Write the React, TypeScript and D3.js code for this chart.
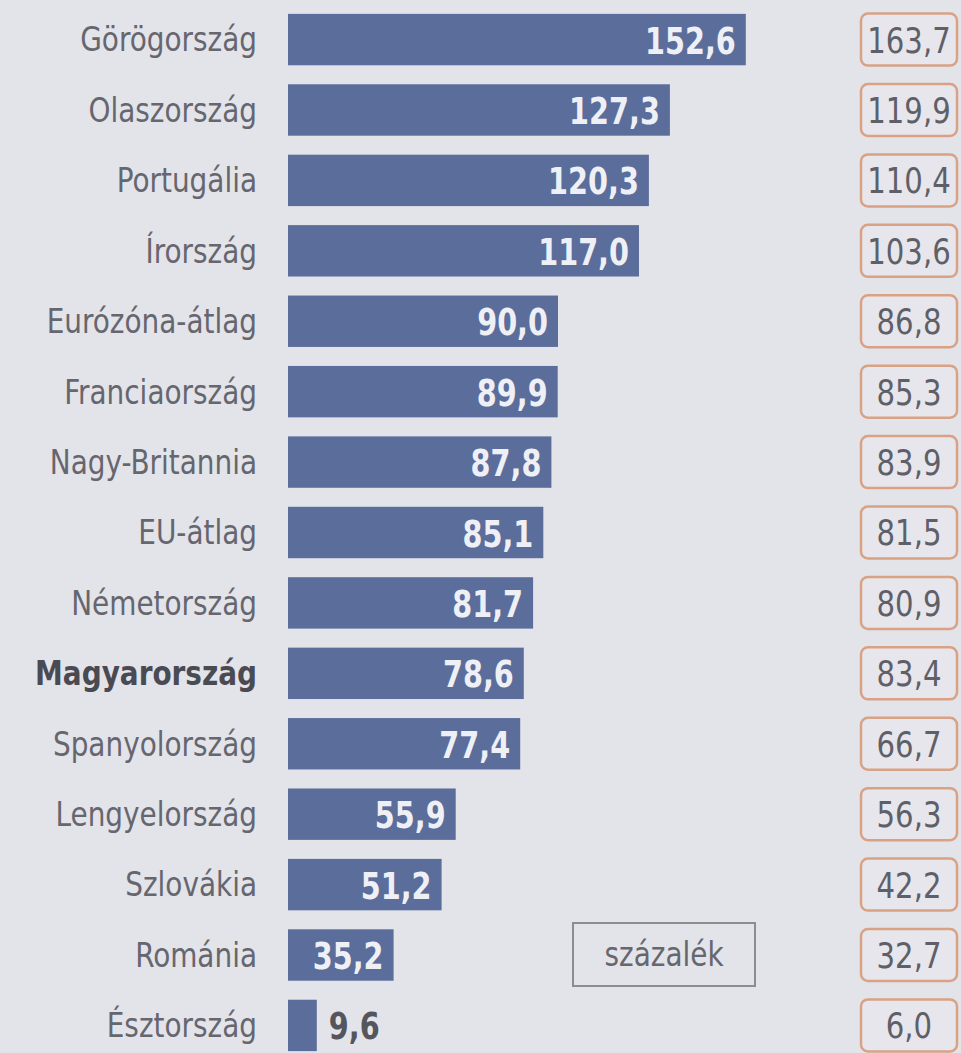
import React, { useEffect, useRef } from 'react';
import * as d3 from 'd3';

const countries = [
  'Görögország', 'Olaszország', 'Portugália', 'Írország', 'Eurózóna-átlag',
  'Franciaország', 'Nagy-Britannia', 'EU-átlag', 'Németország', 'Magyarország',
  'Spanyolország', 'Lengyelország', 'Szlovákia', 'Románia', 'Észtország'
];
const values2013 = [152.6, 127.3, 120.3, 117.0, 90.0, 89.9, 87.8, 85.1, 81.7, 78.6, 77.4, 55.9, 51.2, 35.2, 9.6];
const values2012 = [163.7, 119.9, 110.4, 103.6, 86.8, 85.3, 83.9, 81.5, 80.9, 83.4, 66.7, 56.3, 42.2, 32.7, 6.0];
const highlight = 'Magyarország';
const unitLabel = 'százalék';

const W = 961;
const H = 1053;
const FONT = '"DejaVu Sans Condensed", "Liberation Sans Narrow", "DejaVu Sans", sans-serif';
const fmt = (v: number) => v.toFixed(1).replace('.', ',');

const App: React.FC = () => {
  const svgRef = useRef<SVGSVGElement>(null);

  useEffect(() => {
    if (!svgRef.current) return;
    const svg = d3.select(svgRef.current);
    svg.selectAll('*').remove();

    svg.append('rect').attr('width', W).attr('height', H).attr('fill', '#e3e3ea');

    const x = d3.scaleLinear().domain([0, 160]).range([288, 768]);
    const y = d3.scaleBand<string>()
      .domain(countries)
      .range([4, 1061])
      .paddingInner(0.27)
      .paddingOuter(0.14);
    const mid = (d: string) => y(d)! + y.bandwidth() / 2;
    const inside = (i: number) => x(values2013[i]) - x(0) > 60;

    const rows = svg.selectAll('g.row')
      .data(countries)
      .enter()
      .append('g')
      .attr('class', 'row');

    // bars
    rows.append('rect')
      .attr('x', x(0))
      .attr('y', d => y(d)!)
      .attr('width', (d, i) => x(values2013[i]) - x(0))
      .attr('height', y.bandwidth())
      .attr('fill', '#5b6d9b');

    // country labels (slightly narrowed)
    rows.append('text')
      .attr('transform', d => `translate(257, ${mid(d)}) scale(0.94, 1)`)
      .attr('dy', '0.36em')
      .attr('text-anchor', 'end')
      .attr('font-family', FONT)
      .attr('font-size', 33)
      .attr('font-weight', d => (d === highlight ? 'bold' : 'normal'))
      .attr('fill', d => (d === highlight ? '#4a4a52' : '#66666e'))
      .text(d => d);

    // values in / next to bars
    rows.append('text')
      .attr('transform', (d, i) => {
        const tx = inside(i) ? x(values2013[i]) - 10 : x(values2013[i]) + 12;
        return `translate(${tx}, ${mid(d)}) scale(0.84, 1)`;
      })
      .attr('dy', '0.37em')
      .attr('text-anchor', (d, i) => (inside(i) ? 'end' : 'start'))
      .attr('font-family', FONT)
      .attr('font-size', 38)
      .attr('font-weight', 'bold')
      .attr('fill', (d, i) => (inside(i) ? '#eef0f6' : '#55555d'))
      .text((d, i) => fmt(values2013[i]));

    // right-side boxes
    const boxX = 861;
    const boxW = 96;
    rows.append('rect')
      .attr('x', boxX)
      .attr('y', d => mid(d) - 26)
      .attr('width', boxW)
      .attr('height', 52)
      .attr('rx', 7)
      .attr('fill', '#e6e6ec')
      .attr('stroke', '#d9a285')
      .attr('stroke-width', 2.5);

    rows.append('text')
      .attr('transform', d => `translate(${boxX + boxW / 2}, ${mid(d)}) scale(0.9, 1)`)
      .attr('dy', '0.36em')
      .attr('text-anchor', 'middle')
      .attr('font-family', FONT)
      .attr('font-size', 36)
      .attr('fill', '#5f5f68')
      .text((d, i) => fmt(values2012[i]));

    // unit box
    svg.append('rect')
      .attr('x', 573)
      .attr('y', 923)
      .attr('width', 182)
      .attr('height', 63)
      .attr('fill', 'none')
      .attr('stroke', '#8c8c94')
      .attr('stroke-width', 2);

    svg.append('text')
      .attr('transform', 'translate(664, 954) scale(0.94, 1)')
      .attr('dy', '0.36em')
      .attr('text-anchor', 'middle')
      .attr('font-family', FONT)
      .attr('font-size', 33)
      .attr('fill', '#66666e')
      .text(unitLabel);
  }, []);

  return (
    <svg
      ref={svgRef}
      width={W}
      height={H}
      style={{ position: 'absolute', left: 0, top: 0, display: 'block' }}
    />
  );
};

export default App;
